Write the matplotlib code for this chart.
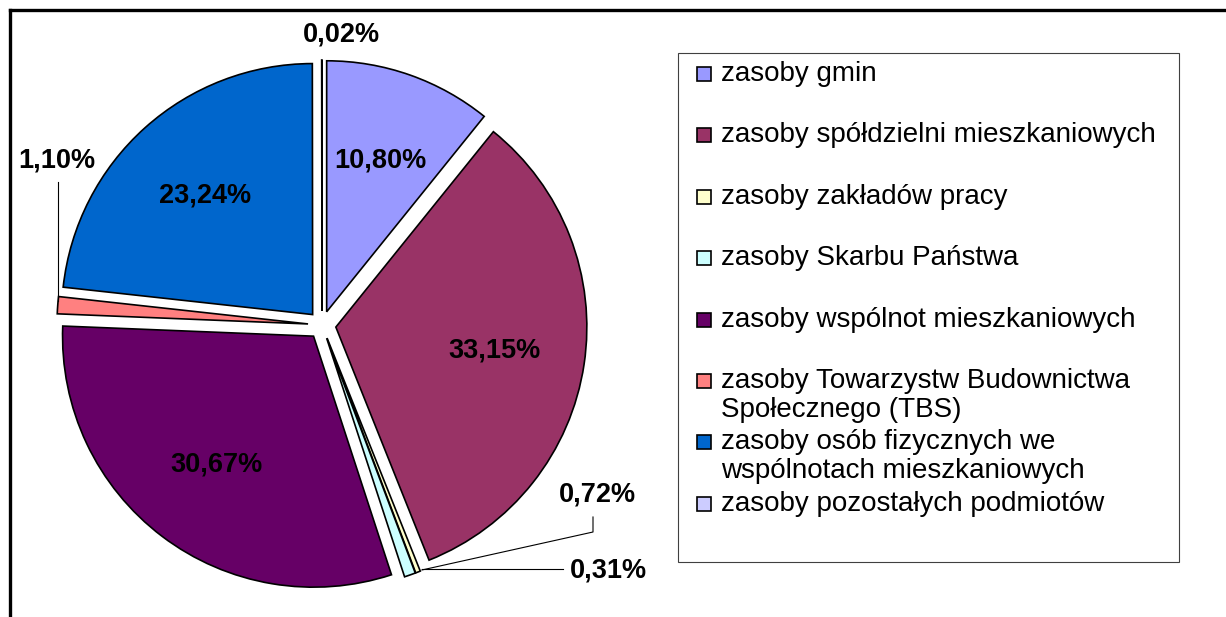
import matplotlib.pyplot as plt
from matplotlib.patches import Rectangle
import numpy as np

plt.rcParams['font.family'] = ['Liberation Sans', 'DejaVu Sans']

# data
categories = [
    'zasoby gmin',
    'zasoby spółdzielni mieszkaniowych',
    'zasoby zakładów pracy',
    'zasoby Skarbu Państwa',
    'zasoby wspólnot mieszkaniowych',
    'zasoby Towarzystw Budownictwa\nSpołecznego (TBS)',
    'zasoby osób fizycznych we\nwspólnotach mieszkaniowych',
    'zasoby pozostałych podmiotów',
]
shares = [10.80, 33.15, 0.31, 0.72, 30.67, 1.10, 23.24, 0.02]
colors = ['#9999FF', '#993366', '#FFFFCC', '#CCFFFF',
          '#660066', '#FF8080', '#0066CC', '#CCCCFF']

# where the small-slice labels sit (pixels from top-left)
outside_pos = {2: (608, 571), 3: (597, 495), 5: (57, 160), 7: (341, 35)}

W, H = 1226, 617
fig = plt.figure(figsize=(W / 100, H / 100), dpi=100)
ax = fig.add_axes([0, 0, 1, 1])

cx, cy, r = 322, H - 325, 251
wedges, _ = ax.pie(shares, colors=colors, startangle=90, counterclock=False,
                   radius=r, center=(cx, cy), explode=[14] * len(shares),
                   wedgeprops=dict(edgecolor='black', linewidth=1.2))
ax.set_xlim(0, W)
ax.set_ylim(0, H)
ax.axis('off')


def fmt(v):
    return f'{v:.2f}%'.replace('.', ',')


for i, w in enumerate(wedges):
    mid = np.deg2rad((w.theta1 + w.theta2) / 2)
    wx, wy = w.center
    if i not in outside_pos:
        tx = wx + 0.64 * r * np.cos(mid)
        ty = wy + 0.64 * r * np.sin(mid)
    else:
        tx, ty = outside_pos[i][0], H - outside_pos[i][1]
    ax.text(tx, ty, fmt(shares[i]), ha='center', va='center',
            fontsize=19.5, fontweight='bold', color='black')

# leader lines for the small slices
def arc_point(i):
    w = wedges[i]
    mid = np.deg2rad((w.theta1 + w.theta2) / 2)
    return w.center[0] + r * np.cos(mid), w.center[1] + r * np.sin(mid)

ex, ey = arc_point(5)
ax.plot([58, 58], [H - 182, ey + 4], color='black', lw=0.8)
ex, ey = arc_point(3)
ax.plot([593, 593, ex + 12], [H - 517, H - 532, ey + 5], color='black', lw=0.8)
ex, ey = arc_point(2)
ax.plot([563, ex + 4], [H - 569, H - 569], color='black', lw=0.8)

# legend drawn by hand, Excel style
ax.add_patch(Rectangle((678, H - 562), 501, 509, facecolor='white',
                       edgecolor='#404040', lw=0.8))
for i, (lab, col) in enumerate(zip(categories, colors)):
    ry = 74 + 61.4 * i
    ax.add_patch(Rectangle((697, H - ry - 7), 14, 14, facecolor=col,
                           edgecolor='black', lw=1.2))
    for k, line in enumerate(lab.split('\n')):
        ax.text(721, H - ry - 29 * k, line, ha='left', va='center',
                fontsize=20, color='black')

# chart frame (only top and left visible in the crop)
ax.plot([10, W], [H - 10, H - 10], color='black', lw=2.4, clip_on=False)
ax.plot([10, 10], [H - 10, 0], color='black', lw=2.4, clip_on=False)

fig.savefig('out.png', dpi=100)
